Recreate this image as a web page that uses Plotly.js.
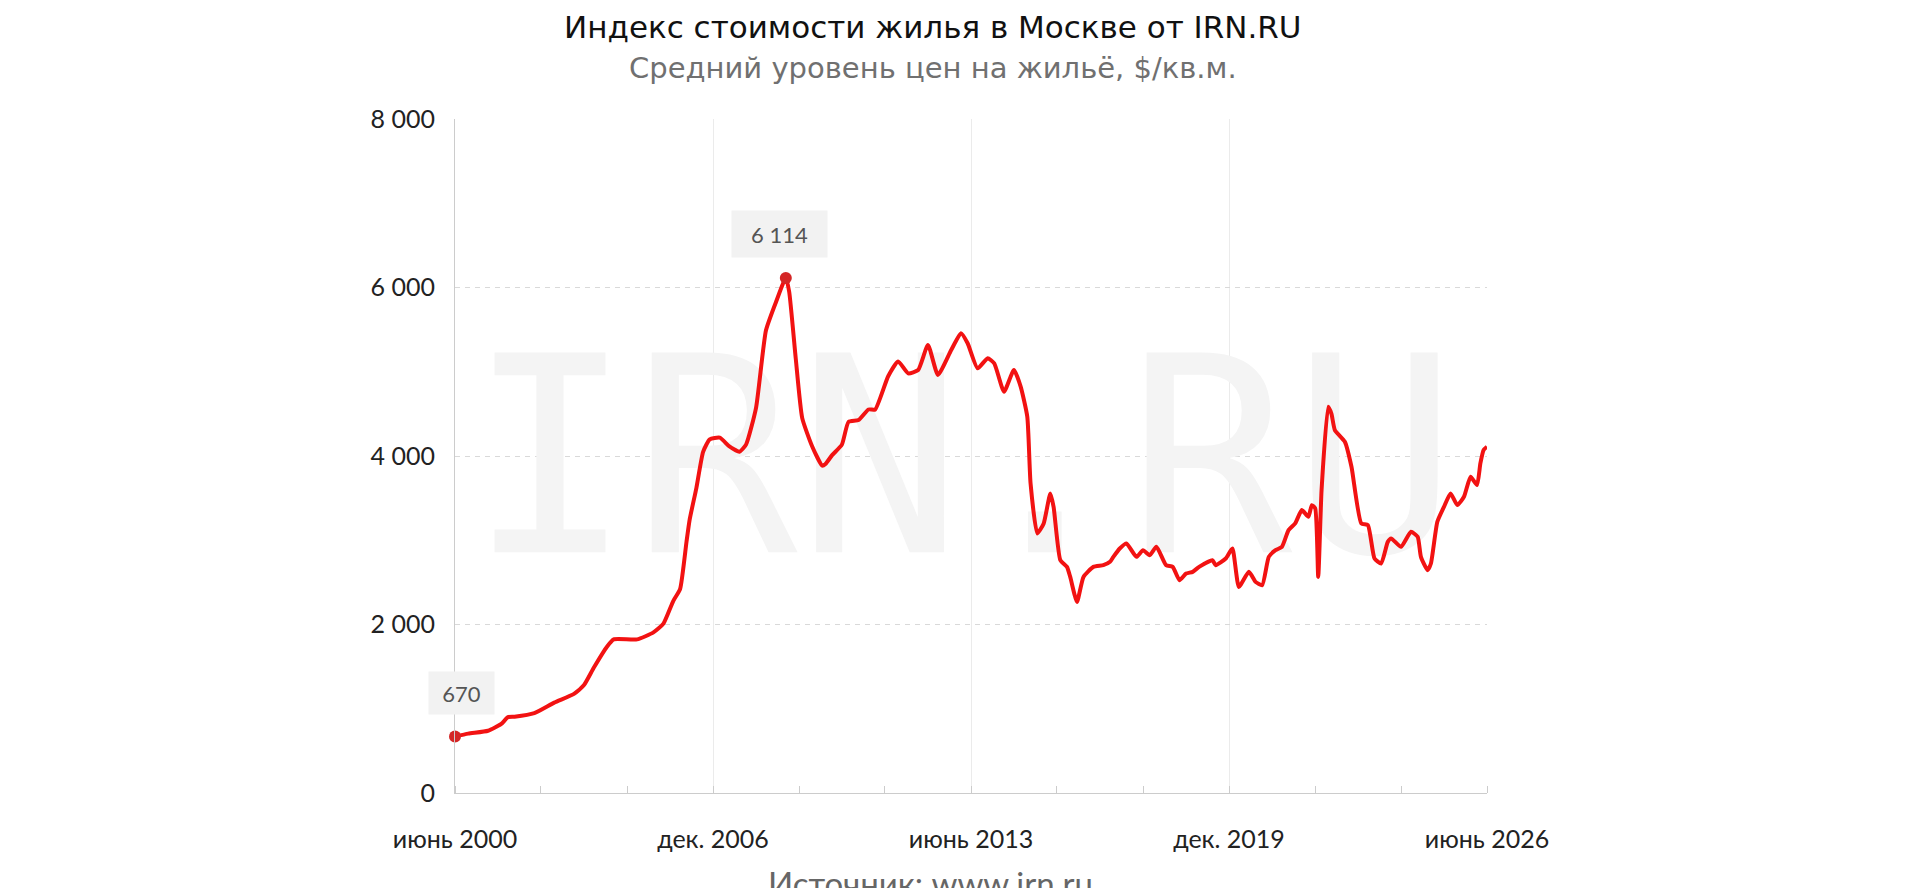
<!DOCTYPE html>
<html>
<head>
<meta charset="utf-8">
<script src="https://cdn.plot.ly/plotly-3.0.1.min.js"></script>
<style>html,body{margin:0;padding:0;background:#fff;}#chart{width:1920px;height:888px;}</style>
</head>
<body>
<div id="chart"></div>
<script>
// ---- Data ----
const dates = [
  '2000-06','2000-10','2001-04','2001-08','2001-10','2001-12','2002-06','2002-12','2003-06','2003-09',
  '2003-12','2004-04','2004-06','2005-01','2005-06','2005-09','2005-12','2006-02','2006-04','2006-05',
  '2006-07','2006-09','2006-11','2007-02','2007-05','2007-08','2007-10','2008-01','2008-04','2008-07',
  '2008-10','2008-11','2009-01','2009-03','2009-06','2009-09','2009-10','2009-12','2010-03','2010-05',
  '2010-08','2010-11','2011-01','2011-05','2011-08','2011-11','2012-02','2012-05','2012-08','2012-12',
  '2013-03','2013-05','2013-08','2013-11','2014-01','2014-04','2014-07','2014-09','2014-11','2014-12',
  '2015-02','2015-04','2015-06','2015-07','2015-09','2015-11','2015-12','2016-02','2016-04','2016-07',
  '2016-10','2016-12','2017-01','2017-03','2017-05','2017-08','2017-10','2017-12','2018-02','2018-05',
  '2018-07','2018-09','2018-11','2019-01','2019-03','2019-07','2019-08','2019-11','2020-01','2020-03',
  '2020-06','2020-08','2020-10','2020-12','2021-02','2021-04','2021-06','2021-08','2021-10','2021-12',
  '2022-01','2022-02','2022-03','2022-04','2022-06','2022-07','2022-08','2022-11','2023-01','2023-04',
  '2023-06','2023-08','2023-10','2023-12','2024-01','2024-04','2024-07','2024-09','2024-10','2024-12',
  '2025-01','2025-03','2025-05','2025-07','2025-09','2025-11','2026-01','2026-03','2026-04','2026-05',
  '2026-06'
];
const prices = [
  670, 705, 739, 820, 900, 906, 948, 1073, 1177, 1281,
  1489, 1739, 1823, 1823, 1906, 2010, 2281, 2420, 2980, 3250,
  3620, 4050, 4197, 4218, 4113, 4051, 4135, 4572, 5489, 5822,
  6114, 5950, 5150, 4450, 4113, 3885, 3905, 4010, 4135, 4405,
  4426, 4552, 4552, 4947, 5122, 4981, 5021, 5318, 4962, 5258,
  5457, 5338, 5041, 5160, 5100, 4763, 5021, 4823, 4466, 3675,
  3081, 3200, 3556, 3397, 2763, 2684, 2565, 2268, 2565, 2684,
  2704, 2744, 2803, 2902, 2962, 2803, 2882, 2823, 2922, 2704,
  2684, 2526, 2605, 2625, 2684, 2763, 2704, 2783, 2902, 2446,
  2625, 2506, 2466, 2803, 2882, 2922, 3120, 3200, 3358, 3279,
  3417, 3380, 2565, 3600, 4585, 4500, 4308, 4169, 3872, 3200,
  3180, 2783, 2724, 2981, 3021, 2922, 3100, 3041, 2803, 2645,
  2724, 3219, 3397, 3556, 3417, 3516, 3753, 3655, 3912, 4071,
  4110
];
const xTickVals = ['2000-06-01','2006-12-01','2013-06-01','2019-12-01','2026-06-01'];
const xTickText = ['июнь 2000','дек. 2006','июнь 2013','дек. 2019','июнь 2026'];
const yTickVals = [0, 2000, 4000, 6000, 8000];

const titleText = 'Индекс стоимости жилья в Москве от IRN.RU';
const subtitleText = 'Средний уровень цен на жильё, $/кв.м.';
const sourceText = 'Источник: www.irn.ru';
const watermarkText = 'IRN.RU';
const WM_X = '2013-03-15', WM_Y = 3670;

// ---- Helpers ----
function fmt(v){ return String(v).replace(/\B(?=(\d{3})+(?!\d))/g, ' '); }

let peakIdx = 0;
prices.forEach((v,i)=>{ if (v > prices[peakIdx]) peakIdx = i; });
const startIdx = 0;

const traces = [
  { // watermark (drawn first, under the line)
    x: [WM_X], y: [WM_Y], mode: 'text', text: [watermarkText],
    textposition: 'middle center',
    textfont: {family: 'DejaVu Sans Mono', size: 274, color: '#f4f4f4'},
    hoverinfo: 'skip', showlegend: false, cliponaxis: false
  },
  {
    x: dates, y: prices, mode: 'lines', type: 'scatter',
    line: {color: '#f21212', width: 4, shape: 'spline', smoothing: 0.5},
    hoverinfo: 'skip', showlegend: false
  },
  {
    x: [dates[startIdx], dates[peakIdx]], y: [prices[startIdx], prices[peakIdx]],
    mode: 'markers', type: 'scatter',
    marker: {size: 12, color: '#d42626'},
    hoverinfo: 'skip', showlegend: false, cliponaxis: false
  }
];

const labelFont = {family: 'Lato', size: 22, color: '#555555'};
const annotations = [
  {x: dates[startIdx], y: prices[startIdx], xref: 'x', yref: 'y', text: fmt(prices[startIdx]),
   showarrow: false, xshift: 6, yshift: 44, bgcolor: '#f2f2f2', borderpad: 0,
   width: 65, height: 42, font: labelFont},
  {x: dates[peakIdx], y: prices[peakIdx], xref: 'x', yref: 'y', text: fmt(prices[peakIdx]),
   showarrow: false, xshift: -6, yshift: 44, bgcolor: '#f2f2f2', borderpad: 0,
   width: 95, height: 46, font: labelFont},
  {xref: 'paper', yref: 'paper', x: 0.4632, y: 1.136, yanchor: 'middle', text: titleText,
   showarrow: false, font: {family: 'DejaVu Sans', size: 31, color: '#111111'}},
  {xref: 'paper', yref: 'paper', x: 0.4632, y: 1.076, yanchor: 'middle', text: subtitleText,
   showarrow: false, font: {family: 'DejaVu Sans', size: 29, color: '#707070'}},
  {xref: 'paper', yref: 'paper', x: 0.461, y: -0.1015, yanchor: 'top', text: sourceText,
   showarrow: false, font: {family: 'Lato', size: 33, color: '#666666'}}
];

const layout = {
  width: 1920, height: 888,
  margin: {l: 455, r: 433, t: 119, b: 95, pad: 0},
  paper_bgcolor: '#ffffff', plot_bgcolor: '#ffffff',
  showlegend: false,
  font: {family: 'Lato', color: '#222222'},
  xaxis: {
    type: 'date', range: ['2000-06-01', '2026-06-01'],
    tickmode: 'array', tickvals: xTickVals, ticktext: xTickText,
    showgrid: true, gridcolor: '#ebebeb', gridwidth: 1,
    showline: true, linecolor: '#cccccc', linewidth: 1,
    ticks: '', zeroline: false,
    tickfont: {family: 'Lato', size: 25, color: '#222222'},
    ticklabelstandoff: 24,
    minor: {ticks: 'inside', ticklen: 7, tickcolor: '#cccccc', tickwidth: 1,
            tick0: '2000-06-01', dtick: 'M26', showgrid: false},
    fixedrange: true
  },
  yaxis: {
    range: [0, 8000],
    tickmode: 'array', tickvals: yTickVals, ticktext: yTickVals.map(fmt),
    showgrid: true, gridcolor: '#d9d9d9', gridwidth: 1, griddash: '5px,5px',
    showline: true, linecolor: '#cccccc', linewidth: 1,
    ticks: '', zeroline: false,
    tickfont: {family: 'Lato', size: 25, color: '#222222'},
    ticklabelstandoff: 14,
    fixedrange: true
  },
  annotations: annotations
};

Plotly.newPlot('chart', traces, layout, {displayModeBar: false, staticPlot: true});
</script>
</body>
</html>
